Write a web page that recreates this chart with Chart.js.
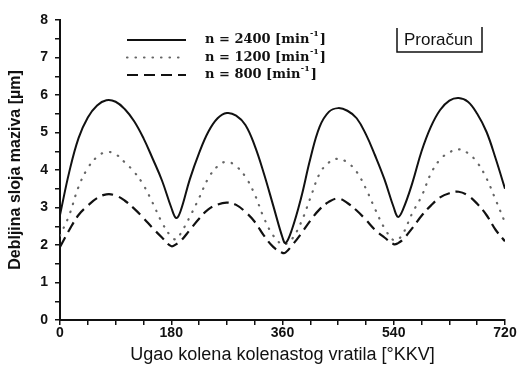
<!DOCTYPE html>
<html>
<head>
<meta charset="utf-8">
<script src="https://cdn.jsdelivr.net/npm/chart.js@4.4.1/dist/chart.umd.min.js"></script>
<style>
    html, body { margin: 0; padding: 0; background: #fff; }
    #wrap { width: 518px; height: 366px; }
</style>
</head>
<body>
<div id="wrap"><canvas id="mazivoChart" width="518" height="366"></canvas></div>
<script>
// ugao kolena [°KKV]
const angles = [0, 15, 30, 45, 60, 75, 90, 105, 120, 135, 150, 165, 180, 188, 195, 210, 225, 240, 255, 270, 285, 300, 315, 330, 345,
    360, 365, 375, 390, 405, 420, 435, 450, 465, 480, 495, 510, 525, 540, 547, 555, 570, 585, 600, 615, 630, 645, 660, 675, 690, 705, 720];

// debljina sloja maziva [µm]
const film2400 = [2.8, 3.95, 4.85, 5.4, 5.72, 5.86, 5.82, 5.62, 5.3, 4.85, 4.3, 3.72, 3.0, 2.72, 2.9, 3.75, 4.45, 5.02, 5.38, 5.52, 5.45, 5.2, 4.65, 3.9, 3.05,
    2.2, 2.05, 2.4, 3.25, 4.3, 5.15, 5.55, 5.65, 5.58, 5.38, 4.95, 4.38, 3.75, 3.0, 2.75, 2.95, 3.65, 4.5, 5.15, 5.6, 5.85, 5.92, 5.82, 5.5, 5.02, 4.3, 3.5];
const film1200 = [2.25, 2.8, 3.55, 4.05, 4.35, 4.48, 4.42, 4.2, 3.95, 3.6, 3.12, 2.6, 2.22, 2.15, 2.3, 2.75, 3.25, 3.78, 4.1, 4.22, 4.1, 3.82, 3.35, 2.72, 2.25,
    2.0, 2.02, 2.15, 2.6, 3.25, 3.9, 4.2, 4.3, 4.2, 3.95, 3.5, 2.95, 2.45, 2.12, 2.15, 2.3, 2.85, 3.3, 3.9, 4.28, 4.47, 4.55, 4.45, 4.2, 3.78, 3.2, 2.6];
const film800 = [1.95, 2.4, 2.8, 3.05, 3.25, 3.35, 3.32, 3.18, 2.97, 2.72, 2.45, 2.2, 1.97, 2.02, 2.1, 2.4, 2.7, 2.95, 3.08, 3.13, 3.07, 2.88, 2.62, 2.25, 1.95,
    1.79, 1.8, 1.98, 2.3, 2.65, 2.95, 3.15, 3.24, 3.12, 2.92, 2.67, 2.4, 2.2, 2.02, 2.05, 2.15, 2.45, 2.78, 3.05, 3.27, 3.38, 3.42, 3.32, 3.1, 2.8, 2.4, 2.1];

const speeds = ['2400', '1200', '800'];
const xTickLabels = [0, 180, 360, 540, 720];
const yTickLabels = [0, 1, 2, 3, 4, 5, 6, 7, 8];

function toPoints(values) {
    return values.map((v, i) => ({ x: angles[i], y: v }));
}

// legenda + "Proračun" okvir
const legendPlugin = {
    id: 'mazivoLegend',
    afterDraw(chart) {
        const ctx = chart.ctx;
        ctx.save();
        chart.data.datasets.forEach((ds, i) => {
            const y = 40 + i * 17.5;
            ctx.strokeStyle = ds.borderColor;
            ctx.lineWidth = ds.borderWidth;
            ctx.lineCap = ds.borderCapStyle || 'butt';
            ctx.setLineDash(ds.borderDash || []);
            ctx.beginPath();
            ctx.moveTo(127, y);
            ctx.lineTo(186, y);
            ctx.stroke();
            ctx.setLineDash([]);

            ctx.fillStyle = '#111';
            ctx.textBaseline = 'middle';
            ctx.font = 'bold 13px "DejaVu Serif"';
            const main = 'n = ' + speeds[i] + ' [min';
            ctx.fillText(main, 205, y);
            let x = 205 + ctx.measureText(main).width;
            ctx.font = 'bold 8px "DejaVu Serif"';
            ctx.fillText('-1', x + 0.5, y - 6);
            x += ctx.measureText('-1').width + 1.5;
            ctx.font = 'bold 13px "DejaVu Serif"';
            ctx.fillText(']', x, y);
        });

        ctx.strokeStyle = '#111';
        ctx.lineWidth = 1.5;
        ctx.beginPath();
        ctx.moveTo(397, 28);
        ctx.lineTo(397, 52);
        ctx.lineTo(482, 52);
        ctx.lineTo(482, 27);
        ctx.stroke();
        ctx.font = '17px "Liberation Sans", Arial';
        ctx.fillStyle = '#111';
        ctx.textBaseline = 'middle';
        ctx.fillText('Proračun', 404, 40);
        ctx.restore();
    }
};

const ctx = document.getElementById('mazivoChart').getContext('2d');

new Chart(ctx, {
    type: 'line',
    data: {
        datasets: [{
            label: 'n = 2400',
            data: toPoints(film2400),
            borderColor: '#111',
            borderWidth: 2,
            pointRadius: 0,
            tension: 0.4
        }, {
            label: 'n = 1200',
            data: toPoints(film1200),
            borderColor: '#666',
            borderWidth: 2.2,
            borderDash: [0.5, 8],
            borderCapStyle: 'round',
            pointRadius: 0,
            tension: 0.4
        }, {
            label: 'n = 800',
            data: toPoints(film800),
            borderColor: '#111',
            borderWidth: 2.2,
            borderDash: [11, 6],
            pointRadius: 0,
            tension: 0.4
        }]
    },
    options: {
        responsive: false,
        animation: false,
        layout: { padding: { top: 20, right: 13, left: 0, bottom: 0 } },
        plugins: {
            legend: { display: false },
            tooltip: { enabled: false }
        },
        scales: {
            x: {
                type: 'linear',
                min: 0,
                max: 720,
                afterFit: function (scale) { scale.height = 46; },
                ticks: {
                    stepSize: 45,
                    autoSkip: false,
                    maxRotation: 0,
                    padding: 0,
                    color: '#111',
                    font: { family: '"Liberation Sans", Arial', size: 14, weight: 'bold' },
                    callback: function (value) { return xTickLabels.includes(value) ? String(value) : ''; }
                },
                grid: { drawOnChartArea: false, drawTicks: true, tickLength: 5, color: '#111', lineWidth: 1.5 },
                border: { display: true, color: '#111', width: 2 },
                title: {
                    display: true,
                    text: 'Ugao kolena kolenastog vratila [°KKV]',
                    color: '#111',
                    font: { family: '"Liberation Sans", Arial', size: 18 },
                    padding: { top: 0, bottom: 0 }
                }
            },
            y: {
                min: 0,
                max: 8,
                afterFit: function (scale) { scale.width = 60; },
                ticks: {
                    stepSize: 0.5,
                    autoSkip: false,
                    padding: 7,
                    color: '#111',
                    font: { family: '"Liberation Sans", Arial', size: 14, weight: 'bold' },
                    callback: function (value) { return yTickLabels.includes(value) ? String(value) : ''; }
                },
                grid: { drawOnChartArea: false, drawTicks: true, tickLength: 5, color: '#111', lineWidth: 1.5 },
                border: { display: true, color: '#111', width: 2 },
                title: {
                    display: true,
                    text: 'Debljina sloja maziva [µm]',
                    color: '#111',
                    font: { family: '"Liberation Sans", Arial', size: 16, weight: 'bold' },
                    padding: { top: 6, bottom: 0 }
                }
            }
        }
    },
    plugins: [legendPlugin]
});
</script>
</body>
</html>
